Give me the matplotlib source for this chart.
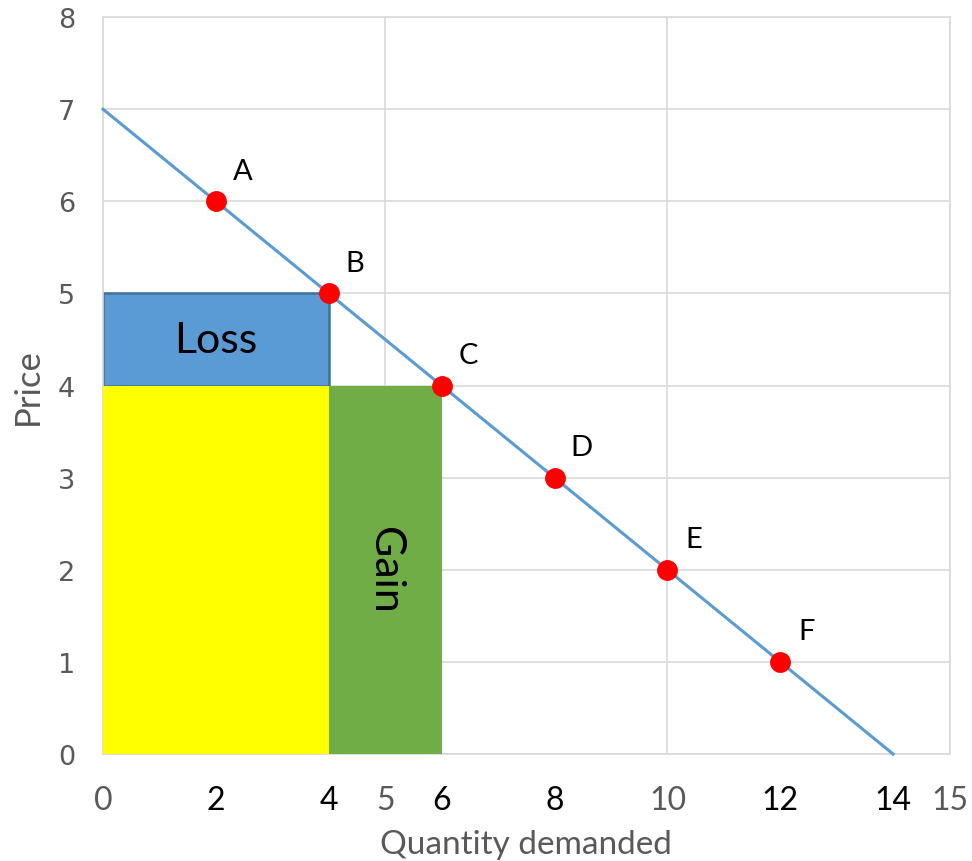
import matplotlib
matplotlib.use('Agg')
import matplotlib.pyplot as plt

# demand schedule points
quantity = [2, 4, 6, 8, 10, 12]
price = [6, 5, 4, 3, 2, 1]
point_names = ['A', 'B', 'C', 'D', 'E', 'F']

# demand line end points
line_q = [0, 14]
line_p = [7, 0]

# axis ticks
x_ticks = [0, 5, 10, 15]
x_extra = [2, 4, 6, 8, 12, 14]
y_ticks = [0, 1, 2, 3, 4, 5, 6, 7, 8]

# revenue areas: left x, width, bottom, height
loss_box = [0, 4, 4, 1]
kept_box = [0, 4, 0, 4]
gain_box = [4, 2, 0, 4]

narrow = ['Lato', 'DejaVu Sans']
body = ['Lato', 'DejaVu Sans']
grey = '#595959'
gridc = '#d9d9d9'

fig = plt.figure(figsize=(9.72, 8.62), dpi=100)
ax = fig.add_axes([0.106, 0.124, 0.871, 0.855])

ax.set_xlim(0, 15)
ax.set_ylim(0, 8)
ax.set_xticks(x_ticks)
ax.set_yticks(y_ticks)
ax.grid(True, color=gridc, lw=1.2, zorder=0)
ax.set_axisbelow(True)
for s in ax.spines.values():
    s.set_color(gridc)
    s.set_linewidth(1.2)
ax.tick_params(length=0)
ax.tick_params(axis='y', pad=20, labelsize=19.5, labelcolor=grey)
ax.tick_params(axis='x', pad=22, labelcolor=grey)
for t in ax.get_xticklabels():
    t.set_fontfamily(narrow)
    t.set_fontsize(23)

# areas
ax.bar(loss_box[0], loss_box[3], width=loss_box[1], bottom=loss_box[2], align='edge',
       color='#5b9bd5', edgecolor='#41719c', linewidth=1.8, zorder=2)
ax.bar(kept_box[0], kept_box[3], width=kept_box[1], bottom=kept_box[2], align='edge',
       color='#ffff00', linewidth=0, zorder=3)
ax.bar(gain_box[0], gain_box[3], width=gain_box[1], bottom=gain_box[2], align='edge',
       color='#70ad47', linewidth=0, zorder=3)

ax.text(loss_box[0] + loss_box[1] / 2, loss_box[2] + loss_box[3] / 2, 'Loss',
        ha='center', va='center', fontsize=31, family=body, zorder=5)
ax.text(gain_box[0] + gain_box[1] / 2, gain_box[2] + gain_box[3] / 2, 'Gain',
        ha='center', va='center', fontsize=31, family=body, rotation=270, zorder=5)

# demand curve and points
ax.plot(line_q, line_p, color='#5b9bd5', lw=2.2, zorder=4, clip_on=False)
ax.plot(quantity, price, 'o', color='#ff0000', markersize=14, zorder=6, clip_on=False)
for q, p, n in zip(quantity, price, point_names):
    ax.annotate(n, (q, p), xytext=(19, 22), textcoords='offset points',
                ha='center', va='center', fontsize=21, family=body, zorder=7)

# extra black quantity labels under the axis
for q in x_extra:
    ax.annotate(str(q), (q, 0), xytext=(0, -22), textcoords='offset points',
                ha='center', va='top', fontsize=23, family=narrow, color='black',
                annotation_clip=False)

ax.set_xlabel('Quantity demanded', fontsize=24, family=narrow, color=grey, labelpad=10)
ax.set_ylabel('Price', fontsize=25, family=narrow, color=grey, labelpad=10)

fig.savefig('out.png', dpi=100)
